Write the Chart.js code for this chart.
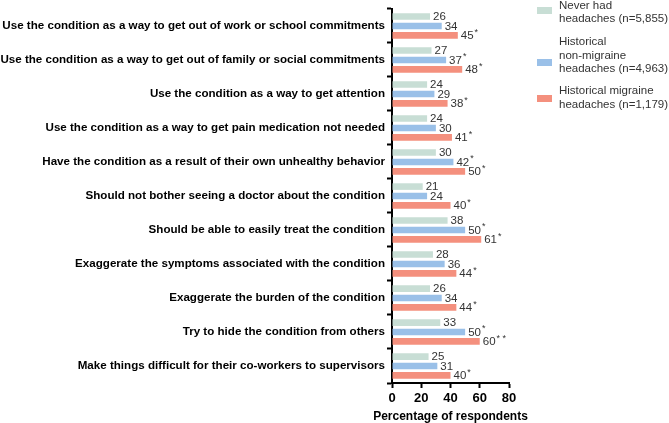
<!DOCTYPE html>
<html>
<head>
<meta charset="utf-8">
<script src="https://cdn.jsdelivr.net/npm/chart.js@4/dist/chart.umd.min.js"></script>
<style>
  html, body { margin: 0; padding: 0; background: #fff; }
  #wrap { position: relative; width: 669px; height: 423px; }
</style>
</head>
<body>
<div id="wrap"><canvas id="chart"></canvas></div>
<script>
const categories = [
  'Use the condition as a way to get out of work or school commitments',
  'Use the condition as a way to get out of family or social commitments',
  'Use the condition as a way to get attention',
  'Use the condition as a way to get pain medication not needed',
  'Have the condition as a result of their own unhealthy behavior',
  'Should not bother seeing a doctor about the condition',
  'Should be able to easily treat the condition',
  'Exaggerate the symptoms associated with the condition',
  'Exaggerate the burden of the condition',
  'Try to hide the condition from others',
  'Make things difficult for their co-workers to supervisors',
]

const neverHad = [26, 27, 24, 24, 30, 21, 38, 28, 26, 33, 25]
const nonMigraine = [34, 37, 29, 30, 42, 24, 50, 36, 34, 50, 31]
const migraine = [45, 48, 38, 41, 50, 40, 61, 44, 44, 60, 40]

const neverHadStars = ['', '', '', '', '', '', '', '', '', '', '']
const nonMigraineStars = ['', '*', '', '', '*', '', '*', '', '', '*', '']
const migraineStars = ['*', '*', '*', '*', '*', '*', '*', '*', '*', '**', '*']

const xTicks = [0, 20, 40, 60, 80]
const xTitle = 'Percentage of respondents'

const seriesNames = [
  ['Never had', 'headaches (n=5,855)'],
  ['Historical', 'non-migraine', 'headaches (n=4,963)'],
  ['Historical migraine', 'headaches (n=1,179)'],
]

const colors = ['#c8ded5', '#9ac0e8', '#f4907e']
const FONT = '"Liberation Sans", Arial, sans-serif'

const valueLabels = {
  id: 'valueLabels',
  afterDatasetsDraw(chart) {
    const ctx = chart.ctx
    ctx.save()
    ctx.textBaseline = 'middle'
    chart.data.datasets.forEach((ds, di) => {
      const meta = chart.getDatasetMeta(di)
      meta.data.forEach((bar, i) => {
        const txt = String(ds.data[i])
        ctx.font = `11.5px ${FONT}`
        ctx.fillStyle = '#333'
        const x = bar.x + 3
        ctx.fillText(txt, x, bar.y + 0.5)
        const stars = ds.stars[i]
        if (stars) {
          const w = ctx.measureText(txt).width
          ctx.font = `9px ${FONT}`
          ctx.fillText(stars.split('').join(' '), x + w + 1, bar.y - 3)
        }
      })
    })
    ctx.restore()
  },
}

// axis title drawn here so it is not squeezed to the plot width
const axisTitle = {
  id: 'axisTitle',
  afterDraw(chart) {
    const ctx = chart.ctx
    const a = chart.chartArea
    ctx.save()
    ctx.font = `bold 12px ${FONT}`
    ctx.fillStyle = '#000'
    ctx.textAlign = 'center'
    ctx.textBaseline = 'middle'
    ctx.fillText(xTitle, (a.left + a.right) / 2, 417)
    ctx.restore()
  },
}

const sideLegend = {
  id: 'sideLegend',
  afterDraw(chart) {
    const ctx = chart.ctx
    const blocks = [
      { top: 5.5, swatch: 7 },
      { top: 42, swatch: 59 },
      { top: 91, swatch: 95 },
    ]
    ctx.save()
    ctx.textBaseline = 'middle'
    ctx.font = `11.5px ${FONT}`
    seriesNames.forEach((lines, i) => {
      ctx.fillStyle = colors[i]
      ctx.fillRect(537, blocks[i].swatch, 15, 7)
      ctx.fillStyle = '#333'
      lines.forEach((line, j) => {
        ctx.fillText(line, 559, blocks[i].top + j * 13.5)
      })
    })
    ctx.restore()
  },
}

new Chart(document.getElementById('chart'), {
  type: 'bar',
  data: {
    labels: categories,
    datasets: [
      { label: seriesNames[0].join(' '), data: neverHad, stars: neverHadStars, backgroundColor: colors[0] },
      { label: seriesNames[1].join(' '), data: nonMigraine, stars: nonMigraineStars, backgroundColor: colors[1] },
      { label: seriesNames[2].join(' '), data: migraine, stars: migraineStars, backgroundColor: colors[2] },
    ],
  },
  options: {
    indexAxis: 'y',
    responsive: true,
    maintainAspectRatio: false,
    animation: false,
    datasets: { bar: { categoryPercentage: 0.83, barPercentage: 0.7 } },
    layout: { padding: { top: 4, right: 160, bottom: 0, left: 0 } },
    plugins: { legend: { display: false }, tooltip: { enabled: false } },
    scales: {
      x: {
        min: 0,
        max: 80,
        afterBuildTicks: (scale) => { scale.ticks = xTicks.map((v) => ({ value: v })) },
        afterFit: (scale) => { scale.height = 40 },
        border: { color: '#000', width: 2 },
        grid: { drawOnChartArea: false, drawTicks: true, tickLength: 5, color: '#000', tickWidth: 2 },
        ticks: { color: '#000', padding: 3, font: { family: FONT, size: 13, weight: 'bold' } },
      },
      y: {
        afterFit: (scale) => { scale.width = 392 },
        border: { color: '#000', width: 2 },
        grid: { drawOnChartArea: false, drawTicks: true, tickLength: 5, color: '#000', tickWidth: 2 },
        ticks: { color: '#000', padding: 2, autoSkip: false, font: { family: FONT, size: 11.6, weight: 'bold' } },
      },
    },
  },
  plugins: [valueLabels, axisTitle, sideLegend],
})
</script>
</body>
</html>
